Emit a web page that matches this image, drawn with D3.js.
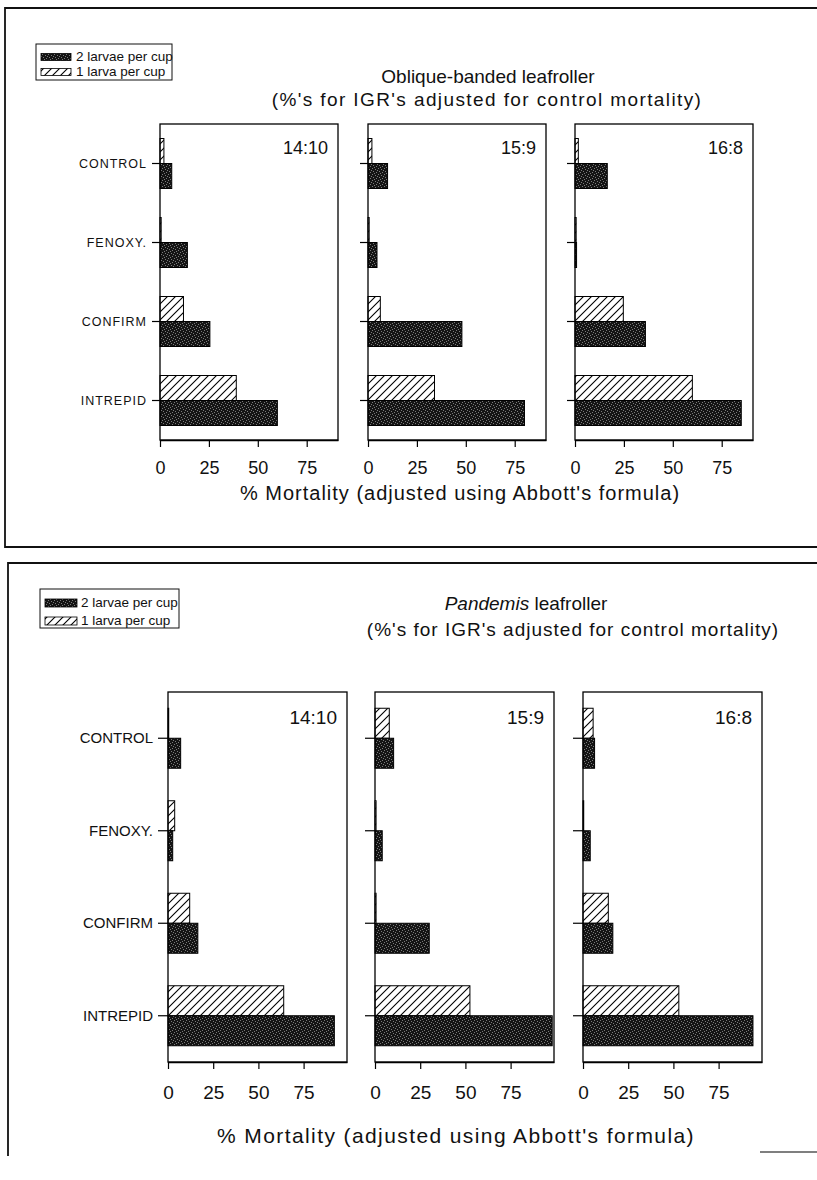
<!DOCTYPE html>
<html><head><meta charset="utf-8">
<script src="https://cdn.jsdelivr.net/npm/d3@7"></script>
<style>
body{margin:0;background:#fff}
svg{display:block}
text{font-family:"Liberation Sans",Arial,sans-serif;fill:#111}
</style>
</head><body>
<svg id="c" width="817" height="1180"></svg>
<script>
// ---------- data ----------
const categories = ["CONTROL", "FENOXY.", "CONFIRM", "INTREPID"];
const photoperiods = ["14:10", "15:9", "16:8"];
const xTicks = [0, 25, 50, 75];
const seriesNames = ["2 larvae per cup", "1 larva per cup"];
const axisTitle = "% Mortality (adjusted using Abbott's formula)";
const subTitle = "(%'s for IGR's adjusted for control mortality)";

// Oblique-banded leafroller, one array per photoperiod (14:10, 15:9, 16:8)
const oblTwoLarvae = [[6, 14, 25.5, 60], [10, 4.6, 48, 80], [16.5, 0.8, 36, 85]];
const oblOneLarva  = [[2, 0.6, 12, 39], [2, 0.6, 6.3, 34], [1.7, 0.6, 24.7, 60]];
// Pandemis leafroller
const panTwoLarvae = [[7, 2.6, 16.5, 92], [10.3, 4, 30, 98], [6.4, 4, 16.5, 94]];
const panOneLarva  = [[0.4, 3.7, 12, 64], [7.9, 0.6, 0.6, 52.5], [5.6, 0.4, 14, 53]];

// ---------- setup ----------
const svg = d3.select("#c");
svg.append("rect").attr("width", 817).attr("height", 1180).attr("fill", "#fff");

const defs = svg.append("defs");
const sp = defs.append("pattern").attr("id", "speckle").attr("patternUnits", "userSpaceOnUse")
  .attr("width", 6).attr("height", 6);
sp.append("rect").attr("width", 6).attr("height", 6).attr("fill", "#141414");
[[0,0],[3,1],[1,3],[4,4],[5,2],[2,5]].forEach(([a,b]) =>
  sp.append("rect").attr("x", a).attr("y", b).attr("width", 1).attr("height", 1).attr("fill", "#7a7a7a"));

const hp = defs.append("pattern").attr("id", "hatch").attr("patternUnits", "userSpaceOnUse")
  .attr("width", 8).attr("height", 8);
hp.append("rect").attr("width", 8).attr("height", 8).attr("fill", "#fff");
hp.append("path").attr("d", "M-2,2 L2,-2 M0,8 L8,0 M6,10 L10,6")
  .attr("stroke", "#000").attr("stroke-width", 1.1);

function drawChart(o) {
  const g = svg.append("g");
  // outer frame
  g.append("path").attr("d", o.framePath).attr("fill", "none")
    .attr("stroke", "#111").attr("stroke-width", 1.8);

  // legend
  const lg = g.append("g");
  lg.append("rect").attr("x", o.legend.x).attr("y", o.legend.y)
    .attr("width", o.legend.w).attr("height", o.legend.h)
    .attr("fill", "#fff").attr("stroke", "#111").attr("stroke-width", 1);
  seriesNames.forEach((s, i) => {
    const yy = o.legend.y + o.legend.row0 + i * o.legend.rowGap;
    lg.append("rect").attr("x", o.legend.x + 5).attr("y", yy - o.legend.sw / 2 - 4)
      .attr("width", o.legend.swW).attr("height", o.legend.sw)
      .attr("fill", i === 0 ? "url(#speckle)" : "url(#hatch)")
      .attr("stroke", "#000").attr("stroke-width", 0.8);
    lg.append("text").attr("x", o.legend.x + o.legend.tx).attr("y", yy)
      .attr("font-size", o.legend.fs).text(s);
  });

  // titles
  const t1 = g.append("text").attr("x", o.title1X).attr("y", o.title1Y)
    .attr("text-anchor", "middle").attr("font-size", o.titleFs);
  if (o.italicWord) {
    t1.append("tspan").attr("font-style", "italic").text(o.italicWord);
    t1.append("tspan").text(" leafroller");
  } else {
    t1.text(o.titleText);
  }
  g.append("text").attr("x", o.title2X).attr("y", o.title2Y)
    .attr("text-anchor", "middle").attr("font-size", o.titleFs)
    .attr("letter-spacing", o.title2Ls).text(subTitle);

  // panels
  o.panelX.forEach((px, i) => {
    const x = d3.scaleLinear().domain([0, o.xMax]).range([px, px + o.panelW]);
    const y = d3.scaleBand().domain(categories).range([o.top, o.bottom]);
    const c = d => y(d) + y.bandwidth() / 2;
    const pg = g.append("g");

    pg.selectAll("rect.one").data(o.one[i]).join("rect").attr("class", "one")
      .attr("x", x(0)).attr("y", (d, j) => c(categories[j]) - o.barH)
      .attr("width", d => x(d) - x(0)).attr("height", o.barH)
      .attr("fill", "url(#hatch)").attr("stroke", "#000").attr("stroke-width", 1);
    pg.selectAll("rect.two").data(o.two[i]).join("rect").attr("class", "two")
      .attr("x", x(0)).attr("y", (d, j) => c(categories[j]))
      .attr("width", d => x(d) - x(0)).attr("height", o.barH)
      .attr("fill", "url(#speckle)").attr("stroke", "#000").attr("stroke-width", 1);

    // frame
    pg.append("rect").attr("x", px).attr("y", o.top).attr("width", o.panelW)
      .attr("height", o.bottom - o.top).attr("fill", "none")
      .attr("stroke", "#000").attr("stroke-width", 1.3);

    // y axis
    const ya = pg.append("g").attr("transform", `translate(${px},0)`)
      .call(d3.axisLeft(y).tickSize(o.yTick).tickSizeOuter(0).tickPadding(5)
        .tickFormat(i === 0 ? (d => d) : (() => "")));
    ya.select(".domain").remove();
    ya.selectAll("line").attr("stroke", "#000").attr("stroke-width", 1.2);
    ya.selectAll("text").attr("font-size", o.catFs).attr("letter-spacing", o.catLs)
      .attr("font-family", "'Liberation Sans',Arial,sans-serif").attr("fill", "#111");

    // x axis
    const xa = pg.append("g").attr("transform", `translate(0,${o.bottom})`)
      .call(d3.axisBottom(x).tickValues(xTicks).tickSize(7).tickSizeOuter(0)
        .tickPadding(o.xPad));
    xa.select(".domain").attr("stroke", "#000").attr("stroke-width", 1.3);
    xa.selectAll("line").attr("stroke", "#000").attr("stroke-width", 1.2);
    xa.selectAll("text").attr("font-size", o.tickFs)
      .attr("font-family", "'Liberation Sans',Arial,sans-serif").attr("fill", "#111");

    // photoperiod label
    pg.append("text").attr("x", px + o.panelW - 10).attr("y", o.top + o.ppDy)
      .attr("text-anchor", "end").attr("font-size", o.ppFs).text(photoperiods[i]);
  });

  g.append("text").attr("x", o.axisTitleX).attr("y", o.axisTitleY)
    .attr("text-anchor", "middle").attr("font-size", o.axisFs)
    .attr("letter-spacing", o.axisLs).text(axisTitle);
}

drawChart({
  framePath: "M817,8 L5,8 L5,547 L817,547",
  legend: {x: 36, y: 44, w: 136, h: 36, row0: 17, rowGap: 15, sw: 7, swW: 30, tx: 40, fs: 13.5},
  titleText: "Oblique-banded leafroller", italicWord: null,
  title1X: 488, title2X: 487, title1Y: 83, title2Y: 106, titleFs: 19, title2Ls: 1.4,
  panelX: [160, 368, 575], panelW: 178, top: 124, bottom: 440, xMax: 91, barH: 25,
  one: oblOneLarva, two: oblTwoLarvae,
  yTick: 8, catFs: 12.5, catLs: 1, xPad: 14, tickFs: 18, ppFs: 18, ppDy: 30,
  axisTitleX: 460, axisTitleY: 500, axisFs: 20, axisLs: 1
});

drawChart({
  framePath: "M817,563 L8,563 L8,1156",
  legend: {x: 40, y: 589, w: 139, h: 39, row0: 18, rowGap: 18, sw: 8, swW: 32, tx: 41, fs: 13.5},
  titleText: null, italicWord: "Pandemis",
  title1X: 526, title2X: 573, title1Y: 610, title2Y: 636, titleFs: 19, title2Ls: 1,
  panelX: [168, 375, 583], panelW: 179, top: 692, bottom: 1062, xMax: 99, barH: 30,
  one: panOneLarva, two: panTwoLarvae,
  yTick: 10, catFs: 15, catLs: 0, xPad: 17, tickFs: 19, ppFs: 19, ppDy: 32,
  axisTitleX: 456, axisTitleY: 1143, axisFs: 21, axisLs: 1.4
});

// small stray frame segment at lower right of the lower figure
svg.append("line").attr("x1", 760).attr("x2", 817).attr("y1", 1152).attr("y2", 1152)
  .attr("stroke", "#555").attr("stroke-width", 1.5);
</script>
</body></html>
